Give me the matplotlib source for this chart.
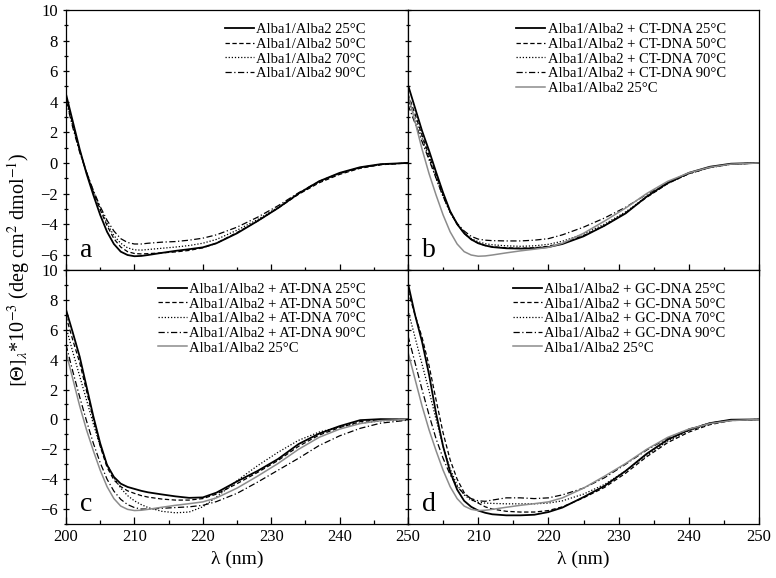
import matplotlib
matplotlib.use('Agg')
import matplotlib.pyplot as plt
from matplotlib.ticker import MultipleLocator, FixedLocator

plt.rcParams['font.family'] = ['Liberation Serif', 'DejaVu Serif']
plt.rcParams['mathtext.fontset'] = 'stix'

# wavelength grid (nm)
wl = [200, 201, 202, 203, 204, 205, 206, 207, 208, 209, 210, 211, 212, 214,
      216, 218, 220, 222, 225, 228, 231, 234, 237, 240, 243, 246, 250]

# Alba1/Alba2 alone at 25 C (grey reference in b, c, d)
ref25 = [4.5, 2.7, 0.9, -0.7, -2.1, -3.4, -4.5, -5.3, -5.8, -6.02, -6.1, -6.08, -6.02, -5.88,
         -5.75, -5.64, -5.52, -5.25, -4.6, -3.8, -2.95, -2.0, -1.2, -0.65, -0.28, -0.08, 0.0]

# panel a: Alba1/Alba2
a50 = [4.3, 2.5, 0.8, -0.6, -1.9, -3.05, -4.1, -4.95, -5.5, -5.8, -5.92, -5.95, -5.93, -5.88,
       -5.82, -5.72, -5.55, -5.25, -4.55, -3.8, -2.95, -2.05, -1.3, -0.75, -0.35, -0.12, 0.0]
a70 = [4.2, 2.4, 0.75, -0.6, -1.85, -2.95, -3.95, -4.75, -5.25, -5.55, -5.68, -5.7, -5.66, -5.58,
       -5.5, -5.4, -5.25, -5.0, -4.4, -3.7, -2.9, -2.0, -1.25, -0.7, -0.32, -0.1, 0.0]
a90 = [4.1, 2.3, 0.7, -0.6, -1.8, -2.85, -3.75, -4.45, -4.95, -5.2, -5.3, -5.3, -5.25, -5.18,
       -5.14, -5.05, -4.92, -4.7, -4.2, -3.55, -2.8, -1.95, -1.2, -0.68, -0.3, -0.1, 0.0]

# panel b: + CT-DNA
ct25 = [5.1, 3.6, 2.1, 0.8, -0.6, -1.95, -3.15, -4.0, -4.6, -5.0, -5.25, -5.4, -5.5, -5.58,
        -5.6, -5.58, -5.5, -5.3, -4.8, -4.1, -3.3, -2.2, -1.3, -0.65, -0.25, -0.05, 0.0]
ct50 = [4.5, 3.2, 1.8, 0.5, -0.8, -2.05, -3.2, -4.0, -4.6, -5.0, -5.25, -5.4, -5.48, -5.55,
        -5.58, -5.55, -5.45, -5.25, -4.75, -4.1, -3.25, -2.25, -1.35, -0.7, -0.3, -0.08, 0.0]
ct70 = [4.1, 2.9, 1.6, 0.3, -1.0, -2.2, -3.25, -4.0, -4.55, -4.95, -5.15, -5.28, -5.35, -5.42,
        -5.45, -5.42, -5.32, -5.12, -4.65, -4.0, -3.2, -2.2, -1.35, -0.7, -0.3, -0.08, 0.0]
ct90 = [3.8, 2.6, 1.4, 0.2, -1.0, -2.2, -3.2, -3.95, -4.45, -4.8, -4.98, -5.05, -5.08, -5.1,
        -5.1, -5.05, -4.95, -4.7, -4.2, -3.6, -2.9, -2.05, -1.3, -0.7, -0.3, -0.08, 0.0]

# panel c: + AT-DNA
at25 = [7.35, 5.8, 4.2, 2.2, 0.2, -1.6, -3.05, -3.85, -4.3, -4.52, -4.65, -4.78, -4.88, -5.02,
        -5.15, -5.25, -5.22, -4.9, -4.15, -3.45, -2.65, -1.65, -0.95, -0.45, -0.05, 0.02, 0.0]
at50 = [6.9, 5.3, 3.8, 1.9, 0.0, -1.8, -3.2, -4.05, -4.5, -4.78, -4.95, -5.1, -5.2, -5.33,
        -5.4, -5.4, -5.3, -5.0, -4.3, -3.55, -2.75, -1.8, -1.05, -0.55, -0.15, -0.02, 0.0]
at70 = [6.2, 4.5, 2.9, 1.3, -0.3, -1.8, -3.0, -3.9, -4.6, -5.1, -5.45, -5.7, -5.9, -6.15,
        -6.25, -6.2, -5.85, -5.2, -4.1, -3.1, -2.2, -1.4, -0.85, -0.5, -0.25, -0.1, 0.0]
at90 = [5.0, 3.2, 1.5, -0.1, -1.6, -2.9, -4.0, -4.8, -5.35, -5.7, -5.9, -6.0, -6.0, -5.95,
        -5.9, -5.85, -5.75, -5.5, -4.95, -4.2, -3.4, -2.6, -1.75, -1.1, -0.6, -0.25, -0.05]

# panel d: + GC-DNA
gc25 = [9.1, 7.0, 5.2, 3.0, 0.4, -1.8, -3.5, -4.7, -5.45, -5.85, -6.1, -6.25, -6.35, -6.42,
        -6.42, -6.38, -6.2, -5.9, -5.2, -4.45, -3.45, -2.3, -1.35, -0.7, -0.25, -0.02, 0.0]
gc50 = [8.6, 7.0, 5.5, 3.6, 1.3, -0.9, -2.7, -4.0, -4.9, -5.35, -5.6, -5.85, -6.0, -6.15,
        -6.2, -6.2, -6.1, -5.85, -5.25, -4.55, -3.6, -2.5, -1.55, -0.85, -0.35, -0.08, 0.0]
gc70 = [7.3, 5.5, 3.7, 1.9, 0.0, -1.8, -3.3, -4.4, -5.05, -5.4, -5.55, -5.6, -5.62, -5.65,
        -5.65, -5.65, -5.6, -5.45, -5.0, -4.35, -3.45, -2.4, -1.45, -0.75, -0.3, -0.05, 0.0]
gc90 = [5.6, 3.8, 2.0, 0.3, -1.3, -2.6, -3.7, -4.5, -5.0, -5.3, -5.45, -5.48, -5.4, -5.25,
        -5.25, -5.3, -5.25, -5.05, -4.6, -3.9, -3.0, -2.05, -1.25, -0.65, -0.25, -0.05, 0.0]

temps = ['25', '50', '70', '90']
styles = [dict(color='black', lw=1.3, ls='-'),
          dict(color='black', lw=0.9, ls=(0, (3.5, 2))),
          dict(color='black', lw=0.9, ls=(0, (1, 1.5))),
          dict(color='black', lw=0.9, ls=(0, (5, 2, 1, 2)))]
grey = dict(color='#8c8c8c', lw=1.1, ls='-')

panels = [
    ('a', [ref25, a50, a70, a90], 'Alba1/Alba2', False),
    ('b', [ct25, ct50, ct70, ct90], 'Alba1/Alba2 + CT-DNA', True),
    ('c', [at25, at50, at70, at90], 'Alba1/Alba2 + AT-DNA', True),
    ('d', [gc25, gc50, gc70, gc90], 'Alba1/Alba2 + GC-DNA', True),
]

fig = plt.figure(figsize=(7.76, 5.78), dpi=100)
L, M, R = 66 / 776, 408 / 776, 759 / 776
T, C, B = 1 - 10 / 578, 1 - 270 / 578, 1 - 524 / 578
boxes = [(L, C, M - L, T - C), (M, C, R - M, T - C),
         (L, B, M - L, C - B), (M, B, R - M, C - B)]
leg_anchor = [(0.876, 0.95), (0.905, 0.95), (0.876, 0.95), (0.905, 0.95)]

for i, (letter, series, name, with_ref) in enumerate(panels):
    ax = fig.add_axes(boxes[i])
    for s, t, st in zip(series, temps, styles):
        ax.plot(wl, s, label=name + ' ' + t + '°C', **st)
    if with_ref:
        ax.plot(wl, ref25, label='Alba1/Alba2 25°C', **grey)

    ax.set_xlim(200, 250)
    ax.set_ylim(-7, 10)
    ax.xaxis.set_major_locator(MultipleLocator(10))
    ax.xaxis.set_minor_locator(MultipleLocator(5))
    ax.yaxis.set_major_locator(FixedLocator([-6, -4, -2, 0, 2, 4, 6, 8, 10]))
    ax.yaxis.set_minor_locator(MultipleLocator(1))

    top = i < 2
    left = i % 2 == 0
    xdir = 'inout' if top else 'in'
    ax.tick_params(axis='x', which='major', direction=xdir, length=8 if top else 5, width=0.9,
                   labelsize=12)
    ax.tick_params(axis='x', which='minor', direction=xdir, length=4.5 if top else 3, width=0.9)
    ax.tick_params(axis='y', which='major', direction='inout', length=5, width=0.9, labelsize=12)
    ax.tick_params(axis='y', which='minor', direction='inout', length=3.5, width=0.9)

    if top:
        ax.tick_params(axis='x', labelbottom=False)
    else:
        ax.set_xticks([200, 210, 220, 230, 240, 250])
        if left:
            ax.set_xticklabels(['200', '210', '220', '230', '240', ''])
        else:
            ax.set_xticklabels(['250', '210', '220', '230', '240', '250'])
        ax.set_xlabel('λ (nm)', fontsize=14, labelpad=4)
    if not left:
        ax.tick_params(axis='y', labelleft=False)

    for sp in ax.spines.values():
        sp.set_linewidth(0.9)

    ax.text(0.04, 0.05, letter, transform=ax.transAxes, fontsize=20)
    ax.legend(loc='upper right', bbox_to_anchor=leg_anchor[i], frameon=False, fontsize=10.5,
              labelspacing=0.1, handlelength=2.0, handletextpad=0.15, borderaxespad=0,
              borderpad=0)

fig.text(0.024, 0.5329, r'$[\Theta]_{\lambda}$*10$^{-3}$ (deg cm$^{2}$ dmol$^{-1}$)',
         rotation=90, va='center', ha='center', fontsize=14.5)

fig.savefig('out.png', dpi=100)
